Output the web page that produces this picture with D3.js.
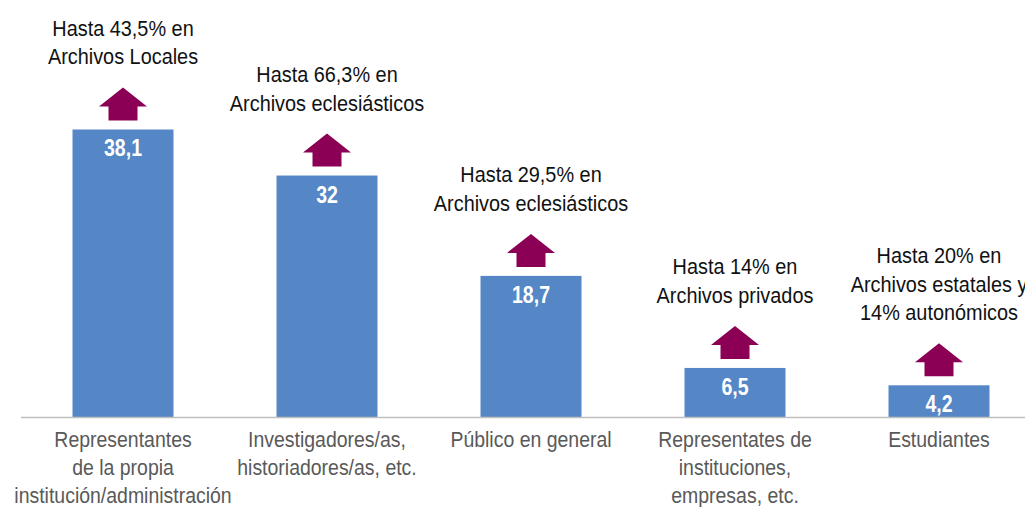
<!DOCTYPE html>
<html><head><meta charset="utf-8">
<script src="https://cdn.jsdelivr.net/npm/d3@7"></script>
<style>
html,body{margin:0;padding:0;background:#fff;}
svg{display:block;font-family:"Liberation Sans",Arial,sans-serif;}
</style></head>
<body>
<svg id="chart" width="1025" height="507"></svg>
<script>
const categories = [
  ["Representantes","de la propia","institución/administración"],
  ["Investigadores/as,","historiadores/as, etc."],
  ["Público en general"],
  ["Representates de","instituciones,","empresas, etc."],
  ["Estudiantes"]
];
const values = [38.1, 32, 18.7, 6.5, 4.2];
const valueLabels = ["38,1","32","18,7","6,5","4,2"];
const notes = [
  ["Hasta 43,5% en","Archivos Locales"],
  ["Hasta 66,3% en","Archivos eclesiásticos"],
  ["Hasta 29,5% en","Archivos eclesiásticos"],
  ["Hasta 14% en","Archivos privados"],
  ["Hasta 20% en","Archivos estatales y","14% autonómicos"]
];

const SX = 0.925; // horizontal condensing to mimic a narrow typeface
const FS = 21.5;
const svg = d3.select("#chart");
const idx = d3.range(values.length);
const x = d3.scaleBand().domain(idx).range([21, 1041]).paddingInner(0.505).paddingOuter(0.2525);
const y = d3.scaleLinear().domain([0, 50]).range([417, 39.7]);

// bars
svg.selectAll("rect.bar").data(idx).join("rect")
  .attr("class","bar")
  .attr("x", i => x(i)).attr("width", x.bandwidth())
  .attr("y", i => y(values[i])).attr("height", i => y(0) - y(values[i]))
  .attr("fill", "#5587C7");

// axis line
svg.append("line").attr("x1",21).attr("x2",1025).attr("y1",y(0)+0.5).attr("y2",y(0)+0.5)
  .attr("stroke","#BFBFBF").attr("stroke-width",1.5);

function narrowText(cx, lines, y0, dy, opts) {
  const g = svg.append("g").attr("transform", `translate(${cx},0) scale(${opts.sx || SX},1)`);
  const t = g.append("text").attr("text-anchor","middle")
    .attr("fill", opts.fill).attr("font-size", opts.size);
  if (opts.weight) t.attr("font-weight", opts.weight);
  lines.forEach((l, k) => t.append("tspan").attr("x", 0).attr("y", y0 + k*dy).text(l));
}

// value labels
idx.forEach(i => {
  narrowText(x(i) + x.bandwidth()/2, [valueLabels[i]], y(values[i]) + 27, 0,
    {fill:"#fff", size:23, weight:"bold", sx:0.85});
});

// arrows
svg.selectAll("path.arrow").data(idx).join("path")
  .attr("class","arrow")
  .attr("fill","#8B0055")
  .attr("d", i => {
    const cx = x(i) + x.bandwidth()/2;
    const b = y(values[i]) - 9;   // stem bottom
    const t = b - 33;            // tip
    const hb = t + 19;           // head base
    return `M${cx},${t} L${cx+24},${hb} L${cx+14.5},${hb} L${cx+14.5},${b} L${cx-14.5},${b} L${cx-14.5},${hb} L${cx-24},${hb} Z`;
  });

// annotations
const lh = 28.5;
idx.forEach(i => {
  const cx = x(i) + x.bandwidth()/2;
  const tip = y(values[i]) - 42;
  const lastBase = tip - 23;
  const lines = notes[i];
  narrowText(cx, lines, lastBase - (lines.length-1)*lh, lh, {fill:"#111", size:FS});
});

// category labels
idx.forEach(i => {
  narrowText(x(i) + x.bandwidth()/2, categories[i], 447, 28, {fill:"#595959", size:FS, sx:0.905});
});
</script>
</body></html>
